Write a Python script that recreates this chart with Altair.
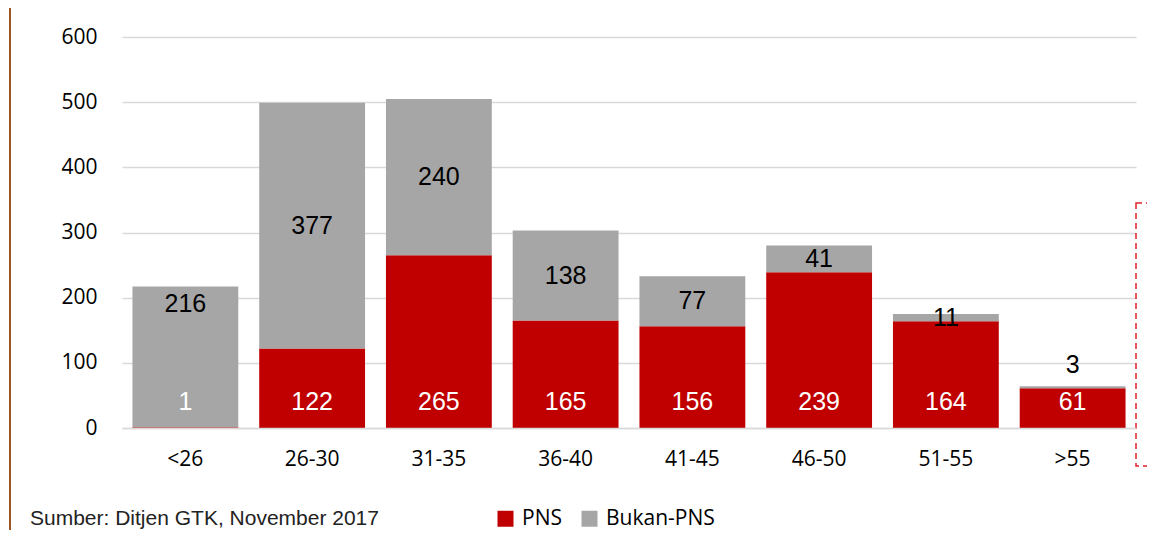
import altair as alt
import pandas as pd

categories = ["<26", "26-30", "31-35", "36-40", "41-45", "46-50", "51-55", ">55"]
pns = [1, 122, 265, 165, 156, 239, 164, 61]
bukan = [216, 377, 240, 138, 77, 41, 11, 3]
series = ["PNS", "Bukan-PNS"]
colors = ["#C00000", "#A6A6A6"]
source_note = "Sumber: Ditjen GTK, November 2017"

rows = []
for c, p, b in zip(categories, pns, bukan):
    rows.append({"cat": c, "series": "PNS", "value": p, "ord": 0})
    rows.append({"cat": c, "series": "Bukan-PNS", "value": b, "ord": 1})
df = pd.DataFrame(rows)

lab = pd.DataFrame({"cat": categories, "pns": pns, "bukan": bukan})
lab["total"] = lab["pns"] + lab["bukan"]
lab["mid"] = lab["pns"] + lab["bukan"] / 2

W, H = 1014, 391
PL, PT = 114, 29

xenc = alt.X("cat:N", sort=categories, title=None,
             scale=alt.Scale(paddingInner=0.165, paddingOuter=0.0825),
             axis=alt.Axis(labelAngle=0, labelFont="Open Sans", labelFontSize=21,
                           labelColor="#000000", labelPadding=20, ticks=False,
                           domain=True, domainColor="#D9D9D9", domainWidth=1.5,
                           grid=False, zindex=1))
yscale = alt.Scale(domain=[0, 600])

bars = alt.Chart(df).mark_bar().encode(
    x=xenc,
    y=alt.Y("value:Q", stack="zero", scale=yscale, title=None,
            axis=alt.Axis(values=[0, 100, 200, 300, 400, 500, 600], labelFont="Open Sans",
                          labelFontSize=21, labelColor="#000000", labelPadding=25,
                          ticks=False, tickSize=0, domain=False, grid=True,
                          gridColor="#D9D9D9", gridWidth=1.5)),
    color=alt.Color("series:N", scale=alt.Scale(domain=series, range=colors),
                    legend=alt.Legend(title=None, orient="none", legendX=373, legendY=471,
                                      direction="horizontal", symbolType="square",
                                      symbolSize=256, symbolStrokeWidth=0,
                                      labelFont="Open Sans", labelFontSize=21,
                                      labelColor="#000000", labelOffset=6,
                                      columnPadding=17, padding=0)),
    order=alt.Order("ord:Q"),
)

base_lab = alt.Chart(lab)
pns_text = base_lab.mark_text(font="Liberation Sans", fontSize=25, color="white",
                              baseline="middle", dy=-26).encode(
    x=alt.X("cat:N", sort=categories), y=alt.datum(0), text="pns:Q")

mid_lab = base_lab.transform_filter(
    (alt.datum.cat != "<26") & (alt.datum.cat != ">55")
).mark_text(font="Liberation Sans", fontSize=25, color="black", baseline="middle").encode(
    x=alt.X("cat:N", sort=categories), y=alt.Y("mid:Q"), text="bukan:Q")

first_lab = base_lab.transform_filter(alt.datum.cat == "<26").mark_text(
    font="Liberation Sans", fontSize=25, color="black", baseline="middle", dy=17).encode(
    x=alt.X("cat:N", sort=categories), y=alt.Y("total:Q"), text="bukan:Q")

last_lab = base_lab.transform_filter(alt.datum.cat == ">55").mark_text(
    font="Liberation Sans", fontSize=25, color="black", baseline="middle", dy=-21).encode(
    x=alt.X("cat:N", sort=categories), y=alt.Y("total:Q"), text="bukan:Q")

note_df = pd.DataFrame({"t": [source_note]})
note = alt.Chart(note_df).mark_text(font="Liberation Sans", fontSize=21, color="#222222",
                                    align="left", baseline="middle").encode(
    x=alt.value(-92), y=alt.value(482), text="t:N")

brown = alt.Chart(note_df).mark_rule(color="#9C5527", strokeWidth=2).encode(
    x=alt.value(-112), y=alt.value(-40), y2=alt.value(510))

dashed = alt.Chart(note_df).mark_rect(filled=False, stroke="#E0202A",
                                      strokeWidth=1.5, strokeDash=[6, 4]).encode(
    x=alt.value(W), x2=alt.value(W + 60), y=alt.value(166), y2=alt.value(429))

chart = alt.layer(bars, pns_text, mid_lab, first_lab, last_lab, note, brown, dashed).properties(
    width=W, height=H,
    background="white",
    autosize=alt.AutoSizeParams(type="none"),
    padding={"left": PL, "top": PT, "right": 1139 - PL - W, "bottom": 522 - PT - H},
).configure_view(strokeWidth=0, stroke="transparent")

chart.save("out.html", embed_options={"renderer": "svg", "actions": False})
